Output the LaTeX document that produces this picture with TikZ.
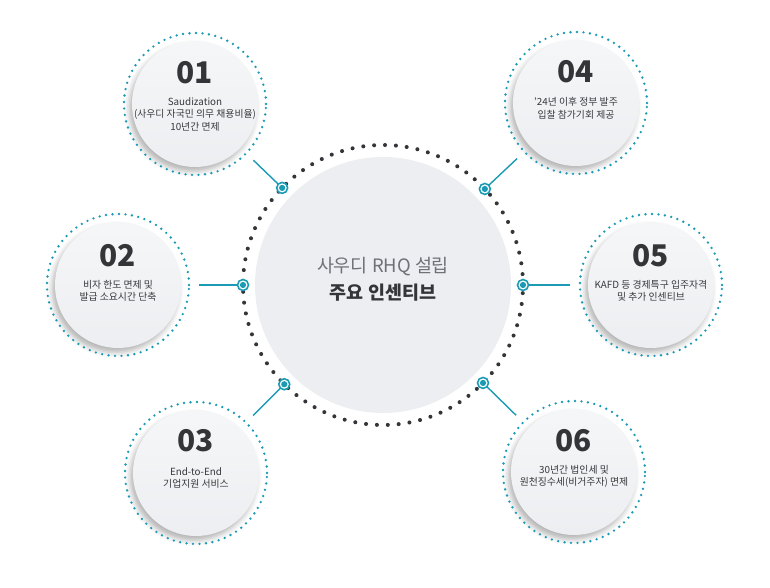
\documentclass[tikz,border=0pt]{standalone}
\usepackage{fontspec}
\setmainfont{Noto Sans CJK KR}
\usetikzlibrary{calc,shadows.blur}
\definecolor{tealclr}{HTML}{1B9AB3}
\definecolor{hubfill}{HTML}{ECEEF1}
\definecolor{numclr}{HTML}{333538}
\definecolor{descclr}{HTML}{36383C}
\definecolor{subclr}{HTML}{6E7176}

\begin{document}
\begin{tikzpicture}[
    hub/.style={circle, minimum size=5.12cm, fill=hubfill, draw=none},
    hubring/.style={draw=numclr, line width=2.3pt, line cap=round,
                    dash pattern=on 0pt off 6.2pt},
    sat/.style={circle, minimum size=2.52cm, draw=none,
                top color=white!50!hubfill, bottom color=hubfill,
                blur shadow={shadow xshift=-1.5pt, shadow yshift=-2.5pt,
                             shadow blur radius=3pt, shadow opacity=30}},
    satring/.style={draw=tealclr, line width=1.5pt, line cap=round,
                    dash pattern=on 0pt off 3.7pt},
    link/.style={draw=tealclr, line width=0.8pt},
    port/.style={circle, draw=tealclr, fill=white, line width=0.9pt,
                 minimum size=0.22cm, inner sep=0pt,
                 path picture={\fill[tealclr] (path picture bounding box.center) circle (0.062cm);}},
    num/.style={font=\fontsize{17}{17}\selectfont\bfseries, text=numclr},
    desc/.style={font=\fontsize{5.6}{7.1}\selectfont, text=descclr,
                 align=center, anchor=north, inner sep=0pt},
  ]
  \useasboundingbox (-7.66,-6.06) rectangle (7.74,5.70);

  \node[hub] (c) at (0,0) {};
  \draw[hubring] (c.center) circle (2.8cm);
  \node[font=\fontsize{10.5}{10.5}\selectfont, text=subclr] (t1) at (0,0.36) {사우디 RHQ 설립};
  \node[font=\fontsize{10.5}{10.5}\selectfont\bfseries, text=numclr] (t2) at (0,-0.16) {주요 인센티브};

  \node[sat] (s1) at (-3.76,3.62) {};
  \node[sat] (s2) at (-5.30,0) {};
  \node[sat] (s3) at (-3.74,-3.76) {};
  \node[sat] (s4) at (3.86,3.64) {};
  \node[sat] (s5) at (5.36,0) {};
  \node[sat] (s6) at (3.82,-3.74) {};

  \foreach \s in {s1,s2,s3,s4,s5,s6}{
    \draw[satring] (\s.center) circle (1.42cm);
    \coordinate (p\s) at ($(c)!2.8cm!(\s)$);
    \coordinate (e\s) at ($(\s)!1.62cm!(c)$);
    \draw[link] (p\s) -- (e\s);
    \node[port] at (p\s) {};
  }

  \node[num] (n1) at ([yshift=0.62cm]s1.center) {01};
  \node[desc] (d1) at ([yshift=0.14cm]s1.center) {Saudization\\(사우디 자국민 의무 채용비율)\\10년간 면제};

  \node[num] (n2) at ([yshift=0.58cm]s2.center) {02};
  \node[desc] (d2) at ([yshift=0.1cm]s2.center) {비자 한도 면제 및\\발급 소요시간 단축};

  \node[num] (n3) at ([yshift=0.64cm]s3.center) {03};
  \node[desc] (d3) at ([yshift=0.12cm]s3.center) {End-to-End\\기업지원 서비스};

  \node[num] (n4) at ([yshift=0.62cm]s4.center) {04};
  \node[desc] (d4) at ([yshift=0.12cm]s4.center) {'24년 이후 정부 발주\\입찰 참가기회 제공};

  \node[num] (n5) at ([yshift=0.58cm]s5.center) {05};
  \node[desc] (d5) at ([yshift=0.1cm]s5.center) {KAFD 등 경제특구 입주자격\\및 추가 인센티브};

  \node[num] (n6) at ([yshift=0.62cm]s6.center) {06};
  \node[desc] (d6) at ([yshift=0.14cm]s6.center) {30년간 법인세 및\\원천징수세(비거주자) 면제};
\end{tikzpicture}
\end{document}
